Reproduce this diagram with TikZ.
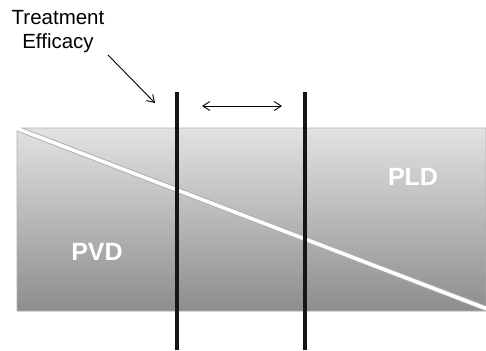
\documentclass[tikz,border=0pt]{standalone}
\usepackage{fontspec}
\setmainfont{Liberation Sans}
\usetikzlibrary{arrows.meta}
\definecolor{bandtop}{HTML}{E1E2E2}
\definecolor{bandbot}{HTML}{8C8D8D}
\definecolor{bandedge}{HTML}{AEAFAF}
\definecolor{barcol}{HTML}{151515}
\tikzset{
  wedge/.style={draw=bandedge, line width=0.8pt},
  marker/.style={draw=barcol, line width=4pt},
  thinarrow/.style={draw=black, line width=0.9pt, -{Straight Barb[length=7pt,width=9pt]}},
  botharrow/.style={draw=black, line width=0.9pt, {Straight Barb[length=7pt,width=9pt]}-{Straight Barb[length=7pt,width=9pt]}},
  zonelabel/.style={text=white, font=\fontsize{25}{30}\selectfont\bfseries, inner sep=0pt},
}
\begin{document}
\begin{tikzpicture}[x=1pt,y=-1pt]
\useasboundingbox (0,0) rectangle (486,350);

% upper-right wedge (PLD)
\begin{scope}
  \clip (22,128) -- (486,128) -- (486,306) -- cycle;
  \shade[top color=bandtop, bottom color=bandbot] (17,128) rectangle (486,311);
\end{scope}
\draw[wedge] (22,128) -- (486,128) -- (486,306) -- cycle;

% lower-left wedge (PVD)
\begin{scope}
  \clip (17,131) -- (486,311) -- (17,311) -- cycle;
  \shade[top color=bandtop, bottom color=bandbot] (17,128) rectangle (486,311);
\end{scope}
\draw[wedge] (17,131) -- (486,311) -- (17,311) -- cycle;

% zone labels
\node[zonelabel] (pld) at (413,177) {PLD};
\node[zonelabel] (pvd) at (97,252) {PVD};

% vertical markers
\coordinate (m1top) at (177,92);
\coordinate (m1bot) at (177,350);
\coordinate (m2top) at (305,92);
\coordinate (m2bot) at (305,350);
\draw[marker] (m1top) -- (m1bot);
\draw[marker] (m2top) -- (m2bot);

% span between markers
\coordinate (spanl) at (202,106);
\coordinate (spanr) at (282,106);
\draw[botharrow] (spanl) -- (spanr);

% caption with pointer
\node[align=center, font=\fontsize{20.5}{24}\selectfont, inner sep=0pt] (efficacy) at (58,32) {Treatment\\Efficacy};
\coordinate (ptrstart) at (108,55);
\coordinate (ptrend) at (155,103);
\draw[thinarrow] (ptrstart) -- (ptrend);
\end{tikzpicture}
\end{document}
